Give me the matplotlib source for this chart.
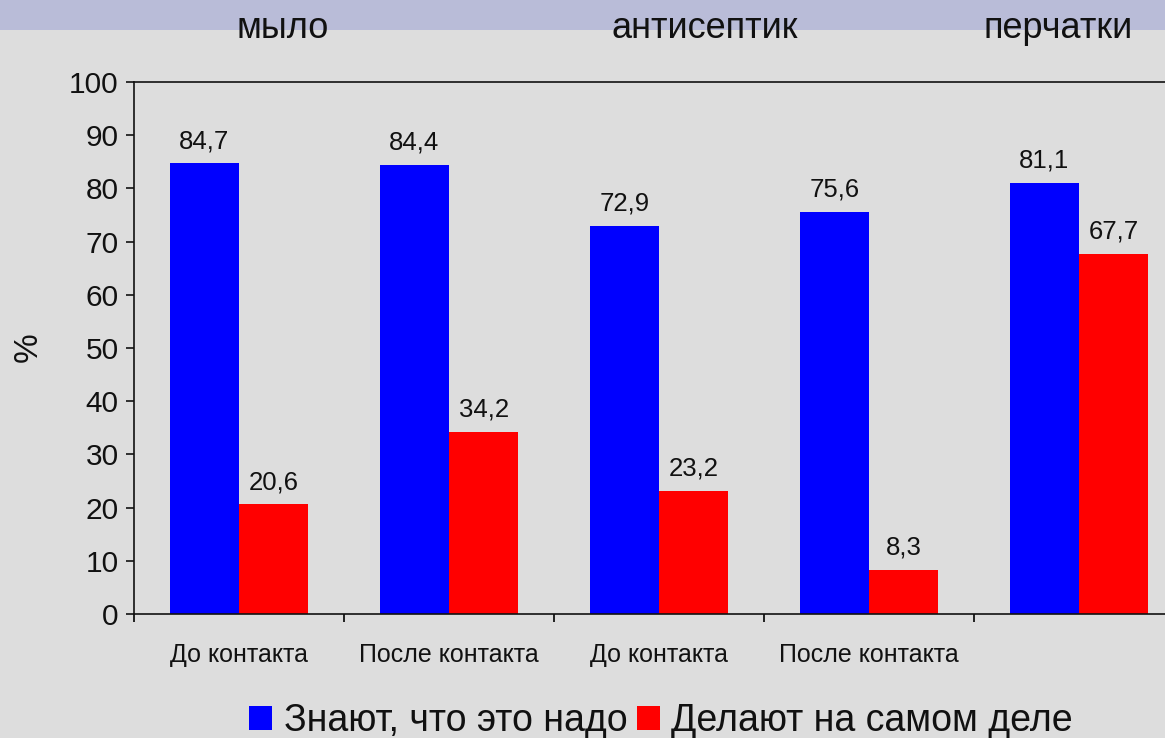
import matplotlib
matplotlib.use("Agg")
import matplotlib.pyplot as plt
from matplotlib.patches import Rectangle
from matplotlib import font_manager
import numpy as np

categories = ["До контакта", "После контакта", "До контакта", "После контакта", ""]
groups = ["мыло", "антисептик", "перчатки"]
know = [84.7, 84.4, 72.9, 75.6, 81.1]
do = [20.6, 34.2, 23.2, 8.3, 67.7]
series_names = ["Знают, что это надо", "Делают на самом деле"]
yticks = list(range(0, 101, 10))

names = {f.name for f in font_manager.fontManager.ttflist}
base_font = "Liberation Sans" if "Liberation Sans" in names else "DejaVu Sans"
plt.rcParams["font.family"] = [base_font, "DejaVu Sans"]

W, H = 1165, 738
fig = plt.figure(figsize=(W / 100, H / 100), dpi=100)
fig.patch.set_facecolor("#dddddd")

# header band with group names
fig.add_artist(Rectangle((0, 1 - 30 / H), 1, 30 / H, transform=fig.transFigure,
                         facecolor="#b9bcd8", edgecolor="none", zorder=0))
for name, cx in zip(groups, [283, 705, 1058]):
    fig.text(cx / W, 1 - 28 / H, name, ha="center", va="center",
             fontsize=26, color="#111111")

ax = fig.add_axes([134 / W, 1 - 614 / H, 1050 / W, 532 / H])
ax.set_facecolor("#dddddd")

x = np.arange(len(categories))
bw = 0.33
b1 = ax.bar(x - bw / 2, know, bw, color="#0000ff", label=series_names[0])
b2 = ax.bar(x + bw / 2, do, bw, color="#ff0000", label=series_names[1])

for bars, vals in ((b1, know), (b2, do)):
    for rect, v in zip(bars, vals):
        ax.annotate(f"{v:.1f}".replace(".", ","),
                    (rect.get_x() + rect.get_width() / 2, v),
                    xytext=(0, 11), textcoords="offset points",
                    ha="center", va="baseline", fontsize=18.5, color="#111111")

ax.set_xlim(-0.5, len(categories) - 0.5)
ax.set_ylim(0, 100)
ax.set_yticks(yticks)
ax.tick_params(axis="y", labelsize=21.5, length=6, width=1.2, pad=5, colors="#111111", direction="out")
ax.set_xticks(x)
ax.set_xticklabels(categories)
ax.tick_params(axis="x", which="major", length=0, pad=21, labelsize=18, colors="#111111")
ax.set_xticks(np.arange(-0.5, len(categories) - 0.5, 1.0), minor=True)
ax.tick_params(axis="x", which="minor", length=6, width=1.2, direction="out")

for s in ("left", "bottom", "top"):
    ax.spines[s].set_color("#111111")
    ax.spines[s].set_linewidth(1.2)
ax.spines["right"].set_visible(False)

fig.text(28 / W, 1 - 347 / H, "%", rotation=90, ha="center", va="center",
         fontsize=24, color="#111111")

leg = fig.legend(handles=[b1, b2], loc="center", bbox_to_anchor=(661 / W, 1 - 721 / H),
                 ncol=2, frameon=False, fontsize=27, handlelength=0.62, handleheight=0.62,
                 handletextpad=0.3, columnspacing=0.25)
for t in leg.get_texts():
    t.set_color("#111111")

fig.savefig("out.png", dpi=100, facecolor=fig.get_facecolor())
